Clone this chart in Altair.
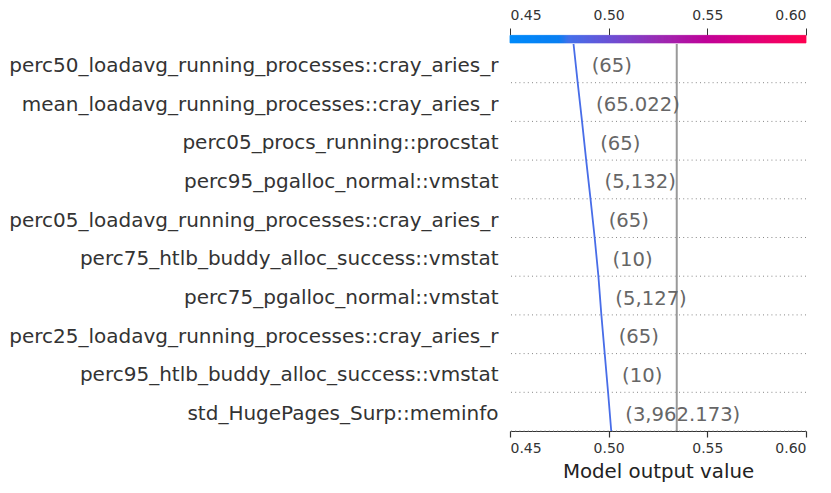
import altair as alt
import pandas as pd
import numpy as np

# features listed from bottom row to top row
features = [
    "std_HugePages_Surp::meminfo",
    "perc95_htlb_buddy_alloc_success::vmstat",
    "perc25_loadavg_running_processes::cray_aries_r",
    "perc75_pgalloc_normal::vmstat",
    "perc75_htlb_buddy_alloc_success::vmstat",
    "perc05_loadavg_running_processes::cray_aries_r",
    "perc95_pgalloc_normal::vmstat",
    "perc05_procs_running::procstat",
    "mean_loadavg_running_processes::cray_aries_r",
    "perc50_loadavg_running_processes::cray_aries_r",
]
feature_values = ["(3,962.173)", "(10)", "(65)", "(5,127)", "(10)",
                  "(65)", "(5,132)", "(65)", "(65.022)", "(65)"]
# cumulative model output at each row boundary, bottom (0) to top (10)
cum_output = [0.5013, 0.4997, 0.4980, 0.4963, 0.4948, 0.4929,
              0.4908, 0.4886, 0.4865, 0.4843, 0.4822]
base_value = 0.5345
x_ticks = [0.45, 0.50, 0.55, 0.60]
x_domain = [0.45, 0.60]

# colormap stops (value -> colour)
cmap_stops = [0.45, 0.475, 0.48, 0.50, 0.525, 0.55, 0.575, 0.60]
cmap_colors = ["#008bfb", "#0a7ff2", "#4470ea", "#6a52d6", "#9a2cb4",
               "#c00298", "#e20078", "#ff0051"]

FONT = "DejaVu Sans"
n = len(features)
prediction = cum_output[-1]

xscale = alt.Scale(domain=x_domain, nice=False, zero=False)
yscale = alt.Scale(domain=[0, n], nice=False, zero=False)
cscale = alt.Scale(domain=cmap_stops, range=cmap_colors, interpolate="rgb")

label_array = "[" + ",".join("'" + f + "'" for f in features) + "]"
yaxis = alt.Axis(values=[i + 0.5 for i in range(n)],
                 labelExpr=label_array + "[floor(datum.value)]",
                 labelFontSize=20, labelColor="#333333", labelFont=FONT,
                 labelPadding=12, labelLimit=0, labelOffset=2,
                 ticks=False, domain=False, grid=False, title=None)

# colorbar
edges = np.linspace(x_domain[0], x_domain[1], 149)
cbar = pd.DataFrame({"c0": edges[:-1], "c1": edges[1:], "cm": (edges[:-1] + edges[1:]) / 2})
cbar_layer = alt.Chart(cbar).mark_rect(strokeWidth=0.8).encode(
    x=alt.X("c0:Q", scale=xscale,
            axis=alt.Axis(orient="top", values=x_ticks, format=".2f", offset=9,
                          domain=False, tickSize=7, tickColor="#333333", tickWidth=1,
                          labelFontSize=14, labelColor="#333333", labelFont=FONT,
                          labelPadding=6, grid=False, title=None)),
    x2="c1:Q",
    y=alt.value(-8.6),
    y2=alt.value(-1.1),
    color=alt.Color("cm:Q", scale=cscale, legend=None),
    stroke=alt.Stroke("cm:Q", scale=cscale, legend=None),
)

grid = pd.DataFrame({"g": list(range(n))})
grid_layer = alt.Chart(grid).mark_rule(color="#888888", strokeWidth=1, strokeDash=[1, 3.2]).encode(
    y=alt.Y("g:Q", scale=yscale, axis=yaxis)
)

base_layer = alt.Chart(pd.DataFrame({"b": [base_value]})).mark_rule(color="#999999", strokeWidth=2).encode(
    x=alt.X("b:Q", scale=xscale,
            axis=alt.Axis(values=x_ticks, format=".2f", orient="bottom",
                          domainColor="#333333", domainWidth=1.2, tickColor="#333333",
                          tickSize=6, tickWidth=1.2, labelFontSize=14, labelColor="#333333",
                          labelFont=FONT, labelPadding=4, grid=False,
                          title="Model output value", titleFontSize=19.8,
                          titleFontWeight="normal", titleColor="#222222", titleFont=FONT,
                          titlePadding=6))
)

line_df = pd.DataFrame({"x": cum_output, "y": list(range(n + 1)), "pred": [prediction] * (n + 1)})
line_layer = alt.Chart(line_df).mark_line(strokeWidth=1.8).encode(
    x=alt.X("x:Q", scale=xscale, axis=None),
    y=alt.Y("y:Q", scale=yscale, axis=yaxis),
    color=alt.Color("pred:Q", scale=cscale, legend=None),
    order="y:Q",
)

text_df = pd.DataFrame({"x": cum_output[:-1], "y": [i + 0.5 for i in range(n)], "t": feature_values})
text_layer = alt.Chart(text_df).mark_text(align="left", baseline="middle", dx=14, dy=3,
                                          font=FONT, fontSize=19.6, color="#666666").encode(
    x=alt.X("x:Q", scale=xscale, axis=None),
    y=alt.Y("y:Q", scale=yscale, axis=yaxis),
    text="t:N",
)

chart = alt.layer(grid_layer, cbar_layer, base_layer, line_layer, text_layer).resolve_axis(
    x="independent"
).properties(
    width=296, height=387,
    padding={"left": 0, "top": 0, "right": 5, "bottom": 5},
).configure_view(stroke=None)

chart.save("out.html", embed_options={"renderer": "svg", "actions": False})
